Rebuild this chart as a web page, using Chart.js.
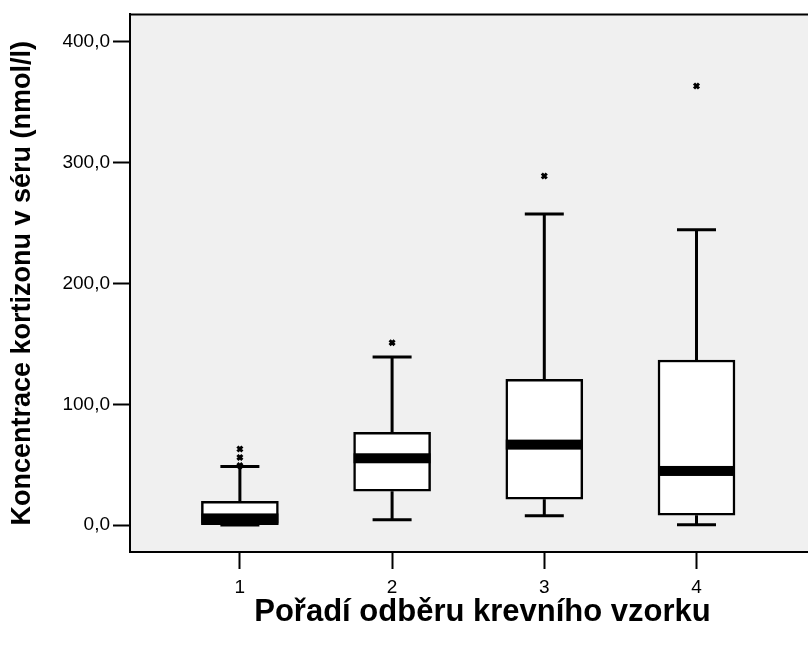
<!DOCTYPE html>
<html>
<head>
<meta charset="utf-8">
<script src="https://cdn.jsdelivr.net/npm/chart.js@4.4.0/dist/chart.umd.min.js"></script>
<style>
  html, body { margin: 0; padding: 0; background: #ffffff; }
  /* the plot frame runs past the right edge of the picture, so the canvas is wider and clipped */
  #wrap { width: 808px; height: 646px; overflow: hidden; position: relative; }
  #inner { width: 842px; height: 646px; position: relative; }
</style>
</head>
<body>
<div id="wrap"><div id="inner"><canvas id="boxChart"></canvas></div></div>
<script>
// data
const groups = [1, 2, 3, 4];
const mins = [0, 4.4, 7.7, 0.3];
const q1s = [0, 28, 21.4, 8.2];
const medians = [5.5, 55.3, 66.6, 44.8];
const q3s = [19.7, 76.7, 120.7, 136.7];
const maxs = [48.4, 139.1, 257.6, 244.4];
const outlierGroups = [1, 1, 1, 2, 3, 4];
const outlierValues = [49.2, 56, 63, 151, 289, 363.5];
const yTicks = [0, 100, 200, 300, 400];

const xTitle = "Pořadí odběru krevního vzorku";
const yTitle = "Koncentrace kortizonu v séru (nmol/l)";

const boxWidth = 77;
const capWidth = 39;
const fontFamily = "'Liberation Sans', Arial, sans-serif";

const formatTick = (v) => v.toFixed(1).replace(".", ",");

const plotFrame = {
    id: "plotFrame",
    beforeDraw(chart) {
        const { ctx, chartArea } = chart;
        ctx.save();
        ctx.fillStyle = "#f0f0f0";
        ctx.fillRect(chartArea.left, chartArea.top, chartArea.right - chartArea.left, chartArea.bottom - chartArea.top);
        ctx.restore();
    },
    afterDraw(chart) {
        const { ctx, chartArea } = chart;
        ctx.save();
        ctx.strokeStyle = "#000";
        ctx.lineWidth = 2;
        ctx.beginPath();
        ctx.moveTo(chartArea.left, chartArea.top);
        ctx.lineTo(chartArea.right, chartArea.top);
        ctx.lineTo(chartArea.right, chartArea.bottom);
        ctx.stroke();
        ctx.restore();
    },
};

// whiskers, caps and the thick median bar, placed through the scales
const boxParts = {
    id: "boxParts",
    afterDatasetsDraw(chart) {
        const { ctx, scales } = chart;
        const xs = scales.x;
        const ys = scales.y;
        ctx.save();
        ctx.strokeStyle = "#000";
        ctx.fillStyle = "#000";
        groups.forEach((g, i) => {
            const x = xs.getPixelForValue(g);
            const yMin = ys.getPixelForValue(mins[i]);
            const yQ1 = ys.getPixelForValue(q1s[i]);
            const yQ3 = ys.getPixelForValue(q3s[i]);
            const yMax = ys.getPixelForValue(maxs[i]);
            const yMed = ys.getPixelForValue(medians[i]);

            ctx.lineWidth = 3;
            ctx.beginPath();
            ctx.moveTo(x, yQ3);
            ctx.lineTo(x, yMax);
            ctx.moveTo(x - capWidth / 2, yMax);
            ctx.lineTo(x + capWidth / 2, yMax);
            if (yMin > yQ1 + 1) {
                ctx.moveTo(x, yQ1);
                ctx.lineTo(x, yMin);
            }
            ctx.moveTo(x - capWidth / 2, yMin);
            ctx.lineTo(x + capWidth / 2, yMin);
            ctx.stroke();

            ctx.fillRect(x - boxWidth / 2, yMed - 5, boxWidth, 10);
        });
        ctx.restore();
    },
};

const ctx = document.getElementById("boxChart").getContext("2d");
new Chart(ctx, {
    type: "bar",
    data: {
        datasets: [
            {
                type: "bar",
                label: "box",
                data: groups.map((g, i) => ({ x: g, y: [q1s[i], q3s[i]] })),
                backgroundColor: "#ffffff",
                borderColor: "#000000",
                borderWidth: 2.5,
                borderSkipped: false,
                barThickness: boxWidth,
                order: 2,
            },
            {
                type: "scatter",
                label: "outliers",
                data: outlierGroups.map((g, i) => ({ x: g, y: outlierValues[i] })),
                pointStyle: "crossRot",
                radius: 3.5,
                borderWidth: 3,
                borderColor: "#000000",
                backgroundColor: "#000000",
                order: 1,
            },
        ],
    },
    options: {
        responsive: true,
        maintainAspectRatio: false,
        animation: false,
        layout: { padding: { top: 12, right: 0, left: 0, bottom: 0 } },
        plugins: {
            legend: { display: false },
            tooltip: { enabled: false },
        },
        scales: {
            x: {
                type: "linear",
                min: 0.278,
                max: 4.91,
                offset: false,
                afterBuildTicks: (scale) => {
                    scale.ticks = groups.map((v) => ({ value: v }));
                },
                afterFit: (scale) => {
                    scale.height = 94;
                },
                ticks: {
                    color: "#000",
                    font: { family: fontFamily, size: 19 },
                    padding: 7,
                    callback: (v) => String(v),
                },
                grid: {
                    offset: false,
                    drawOnChartArea: false,
                    drawTicks: true,
                    tickLength: 17,
                    tickWidth: 2,
                    tickColor: "#000",
                },
                border: { display: true, color: "#000", width: 2 },
                title: {
                    display: true,
                    text: xTitle,
                    color: "#000",
                    font: { family: fontFamily, size: 31, weight: "bold" },
                    padding: { top: 0, bottom: 15 },
                },
            },
            y: {
                type: "linear",
                min: -22.3,
                max: 422.8,
                afterBuildTicks: (scale) => {
                    scale.ticks = yTicks.map((v) => ({ value: v }));
                },
                afterFit: (scale) => {
                    scale.width = 130;
                },
                ticks: {
                    color: "#000",
                    font: { family: fontFamily, size: 19 },
                    padding: 3,
                    callback: (v) => formatTick(v),
                },
                grid: {
                    drawOnChartArea: false,
                    drawTicks: true,
                    tickLength: 17,
                    tickWidth: 2,
                    tickColor: "#000",
                },
                border: { display: true, color: "#000", width: 2 },
                title: {
                    display: true,
                    text: yTitle,
                    color: "#000",
                    font: { family: fontFamily, size: 27, weight: "bold" },
                    padding: { top: 6, bottom: 0 },
                },
            },
        },
    },
    plugins: [plotFrame, boxParts],
});
</script>
</body>
</html>
